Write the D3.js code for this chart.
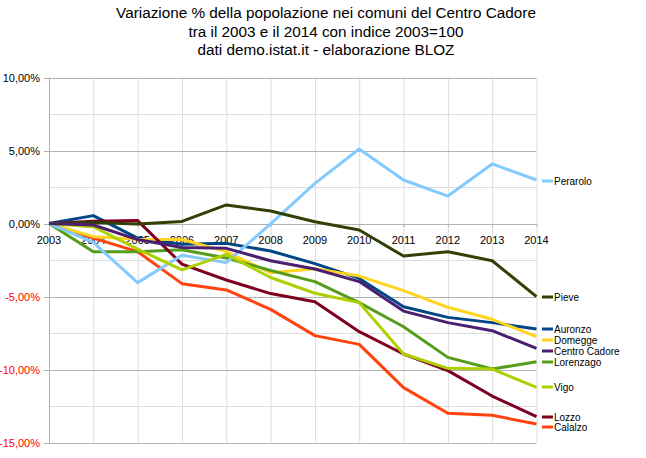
<!DOCTYPE html>
<html>
<head>
<meta charset="utf-8">
<script src="https://cdn.jsdelivr.net/npm/d3@7"></script>
<style>
  body { margin: 0; background: #fff; }
  svg { font-family: "Liberation Sans", Arial, sans-serif; }
</style>
</head>
<body>
<svg id="chart" width="646" height="458"></svg>
<script>
// Variazione % popolazione Centro Cadore 2003-2014

const anni = [2003, 2004, 2005, 2006, 2007, 2008, 2009, 2010, 2011, 2012, 2013, 2014];

const auronzo      = [0, 0.54, -1.0, -1.42, -1.36, -1.88, -2.75, -3.76, -5.7, -6.43, -6.79, -7.23];
const calalzo      = [0, -1.0, -1.93, -4.12, -4.55, -5.88, -7.68, -8.28, -11.24, -13.0, -13.14, -13.73];
const domegge      = [0, -0.9, -1.08, -1.1, -1.93, -3.38, -3.1, -3.6, -4.6, -5.74, -6.56, -7.75];
const lorenzago    = [0, -1.93, -1.93, -1.8, -2.36, -3.22, -3.98, -5.42, -7.07, -9.17, -9.97, -9.47];
const lozzo        = [0, 0.15, 0.2, -2.78, -3.87, -4.8, -5.36, -7.41, -8.94, -10.08, -11.82, -13.23];
const perarolo     = [0, -1.3, -4.05, -2.18, -2.68, -0.03, 2.75, 5.1, 2.98, 1.88, 4.08, 2.98];
const pieve        = [0, 0.06, -0.03, 0.14, 1.27, 0.86, 0.12, -0.45, -2.23, -1.93, -2.55, -5.01];
const vigo         = [0, -0.22, -1.75, -3.18, -2.12, -3.7, -4.78, -5.42, -8.94, -9.92, -9.97, -11.22];
const centroCadore = [0, -0.1, -1.1, -1.65, -1.7, -2.55, -3.12, -3.98, -6.0, -6.79, -7.34, -8.55];

const comuni = ["Auronzo", "Calalzo", "Domegge", "Lorenzago", "Lozzo", "Perarolo", "Pieve", "Vigo", "Centro Cadore"];
const valori = [auronzo, calalzo, domegge, lorenzago, lozzo, perarolo, pieve, vigo, centroCadore];
const colori = ["#004586", "#ff420e", "#ffd320", "#579d1c", "#7e0021", "#83caff", "#314004", "#aecf00", "#4b1f6f"];

// posizione verticale delle etichette di legenda (in % sull'asse)
const legendaY = [-7.23, -13.97, -7.96, -9.47, -13.25, 2.93, -5.05, -11.22, -8.71];

const yTicks = [10, 5, 0, -5, -10, -15];
const yMinor = [7.5, 2.5, -2.5, -7.5, -12.5];

const titolo = [
  "Variazione % della popolazione nei comuni del Centro Cadore",
  "tra il 2003 e il 2014 con indice 2003=100",
  "dati demo.istat.it - elaborazione BLOZ"
];

const svg = d3.select("#chart");
const x0 = 49, x1 = 536.5;

const x = d3.scaleLinear().domain([2003, 2014]).range([x0, x1]);
const y = d3.scaleLinear().domain([-15, 10]).range([442.5, 77.5]);

const fmt = v => d3.format(".2f")(v).replace(".", ",").replace("−", "-") + "%";

// 1. griglia
const g = svg.append("g");
g.selectAll(".vgrid").data(anni).enter().append("line")
  .attr("x1", d => x(d) + 0.5).attr("x2", d => x(d) + 0.5)
  .attr("y1", y(10)).attr("y2", y(-15))
  .attr("stroke", "#dddddd").attr("stroke-width", 1);

g.selectAll(".minor").data(yMinor).enter().append("line")
  .attr("x1", x0).attr("x2", x1)
  .attr("y1", d => Math.round(y(d)) + 0.5).attr("y2", d => Math.round(y(d)) + 0.5)
  .attr("stroke", "#dddddd");

g.selectAll(".major").data(yTicks).enter().append("line")
  .attr("x1", x0 - 5).attr("x2", x1)
  .attr("y1", d => Math.round(y(d)) + 0.5).attr("y2", d => Math.round(y(d)) + 0.5)
  .attr("stroke", "#b3b3b3");

// asse y
g.append("line")
  .attr("x1", x0 + 0.5).attr("x2", x0 + 0.5)
  .attr("y1", y(10)).attr("y2", y(-15) + 1)
  .attr("stroke", "#b3b3b3");

// tacche asse x sullo zero
g.selectAll(".xtick").data(anni).enter().append("line")
  .attr("x1", d => x(d) + 0.5).attr("x2", d => x(d) + 0.5)
  .attr("y1", Math.round(y(0))).attr("y2", Math.round(y(0)) + 3)
  .attr("stroke", "#b3b3b3");

// etichette y
svg.selectAll(".ylab").data(yTicks).enter().append("text")
  .attr("x", 40).attr("y", d => y(d) + 4)
  .attr("text-anchor", "end")
  .style("font-size", "11px")
  .attr("fill", d => d < 0 ? "#ff0000" : "#000")
  .text(fmt);

// etichette x
svg.selectAll(".xlab").data(anni).enter().append("text")
  .attr("x", d => x(d)).attr("y", y(0) + 20)
  .attr("text-anchor", "middle")
  .style("font-size", "11px")
  .text(d => d);

// 2. linee
const line = d3.line().x((d, i) => x(anni[i])).y(d => y(d));
svg.selectAll(".serie").data(valori).enter().append("path")
  .attr("d", line)
  .attr("fill", "none")
  .attr("stroke", (d, i) => colori[i])
  .attr("stroke-width", 3)
  .attr("stroke-linejoin", "round");

// 3. legenda a destra
const leg = svg.selectAll(".leg").data(comuni).enter().append("g")
  .attr("transform", (d, i) => `translate(0,${Math.round(y(legendaY[i]))})`);
leg.append("line")
  .attr("x1", 542).attr("x2", 553)
  .attr("stroke", (d, i) => colori[i])
  .attr("stroke-width", 3);
leg.append("text")
  .attr("x", 554).attr("y", 3.5)
  .style("font-size", "10px")
  .text(d => d);

// 4. titolo
svg.selectAll(".tit").data(titolo).enter().append("text")
  .attr("x", 326).attr("y", (d, i) => 18 + i * 18.5)
  .attr("text-anchor", "middle")
  .style("font-size", "15.3px")
  .text(d => d);
</script>
</body>
</html>
